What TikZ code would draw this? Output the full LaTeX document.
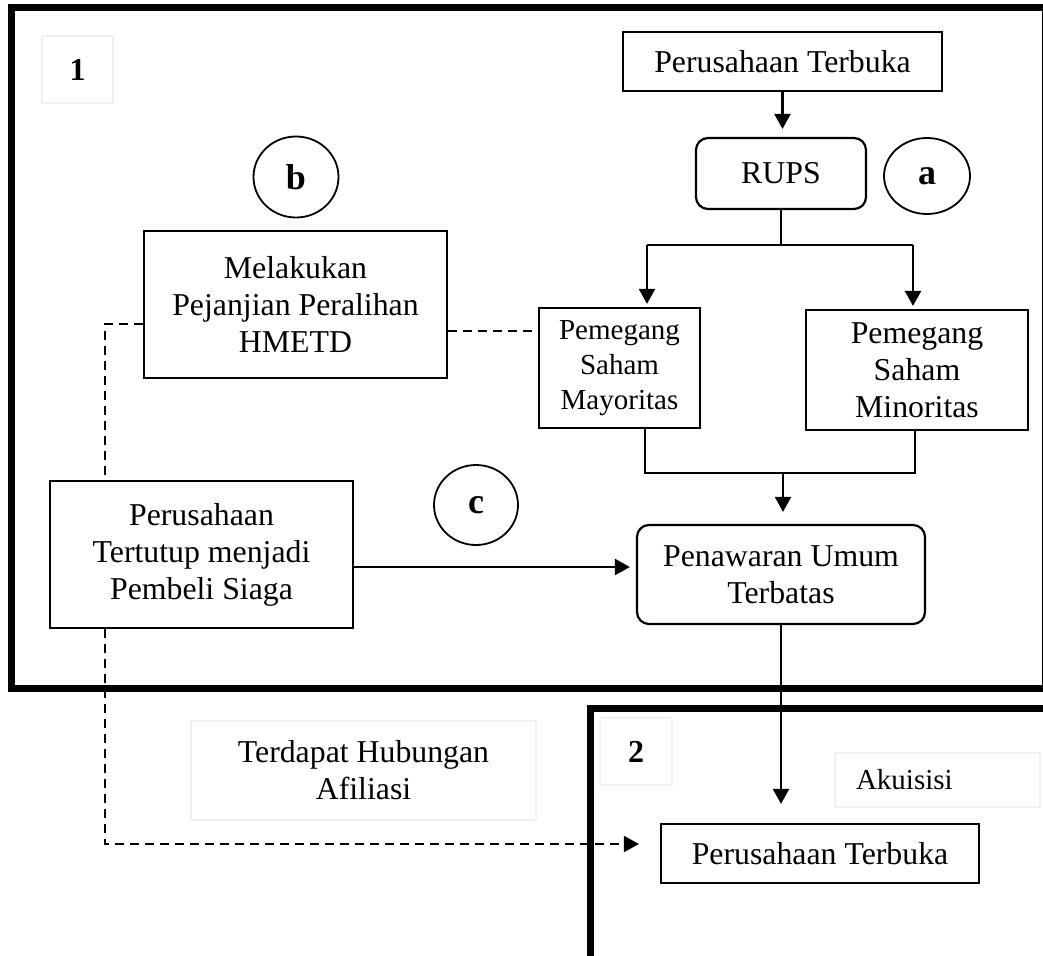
\documentclass[tikz,border=0pt]{standalone}
\usepackage{fontspec}
\setmainfont{Liberation Serif}
\usetikzlibrary{arrows.meta,shapes.geometric}
\begin{document}
\begin{tikzpicture}[x=1pt,y=-1pt,
  box/.style={draw, line width=2.2pt, inner sep=0pt, align=center, font=\fontsize{31.8}{37}\selectfont},
  rbox/.style={box, rounded corners=12pt},
  faint/.style={draw=black!6, line width=2pt, inner sep=0pt, align=center, font=\fontsize{31.8}{37}\selectfont},
  letter/.style={draw, ellipse, line width=1.8pt, inner sep=0pt, font=\fontsize{36}{40}\selectfont\bfseries},
  conn/.style={line width=2.3pt},
  arr/.style={conn, -{Triangle[length=15pt,width=16pt]}},
  dashedconn/.style={line width=2.3pt, dash pattern=on 9pt off 6pt},
  frame/.style={line width=7pt}]
\useasboundingbox (0,0) rectangle (1043,955);
% frames
\draw[frame] (11,8) rectangle (1045.5,688);
\draw[frame] (1050,708) -- (590,708) -- (590,965);
% nodes
\node[box, minimum width=319, minimum height=59] (top) at (782.5,61.5) {Perusahaan Terbuka};
\node[rbox, minimum width=170, minimum height=71] (rups) at (781,173.5) {RUPS};
\node[letter, minimum width=86, minimum height=76] (ca) at (927,176) {a};
\node[letter, minimum width=85, minimum height=81] (cb) at (296,177) {b};
\node[letter, minimum width=84, minimum height=80] (cc) at (476,505) {c};
\node[box, minimum width=303, minimum height=147] (mel) at (295.5,304.5) {Melakukan\\Pejanjian Peralihan\\HMETD};
\node[box, minimum width=161, minimum height=120, font=\fontsize{29}{35}\selectfont] (maj) at (619.5,368) {Pemegang\\Saham\\Mayoritas};
\node[box, minimum width=222, minimum height=120] (min) at (917,370) {Pemegang\\Saham\\Minoritas};
\node[box, minimum width=303, minimum height=147] (tert) at (201.5,554.5) {Perusahaan\\Tertutup menjadi\\Pembeli Siaga};
\node[rbox, minimum width=288, minimum height=99] (pen) at (781,574.5) {Penawaran Umum\\Terbatas};
\node[box, minimum width=318, minimum height=59] (bot) at (820,853.5) {Perusahaan Terbuka};
\node[faint, minimum width=71, minimum height=67, font=\fontsize{32}{37}\selectfont\bfseries] (l1) at (77.5,69.5) {1};
\node[faint, minimum width=72, minimum height=67, font=\fontsize{32}{37}\selectfont\bfseries] (l2) at (636,751.5) {2};
\node[faint, minimum width=345, minimum height=99] (aff) at (363.5,770.5) {Terdapat Hubungan\\Afiliasi};
\node[faint, text width=163, inner xsep=21, align=left, minimum height=54, font=\fontsize{29}{35}\selectfont] (aku) at (937.5,780) {Akuisisi};
% coordinates
\coordinate (split) at (781,245);
\coordinate (sl) at (647,245);
\coordinate (sr) at (913,245);
\coordinate (jl) at (645,473);
\coordinate (jr) at (915,473);
\coordinate (jm) at (783,473);
\coordinate (ac) at (353,567);
\coordinate (d1) at (105,324);
\coordinate (d2) at (490,331);
\coordinate (d3) at (105,844);
% connectors
\draw[arr, shorten >=8pt] (top.south) -- (top.south |- rups.north);
\draw[conn] (rups.south) -- (split);
\draw[conn] (sl) -- (sr);
\draw[arr, shorten >=3pt] (sl) -- (sl |- maj.north);
\draw[arr, shorten >=3pt] (sr) -- (sr |- min.north);
\draw[conn] (jl |- maj.south) -- (jl) -- (jr) -- (jr |- min.south);
\draw[arr, shorten >=12pt] (jm) -- (jm |- pen.north);
\draw[arr, shorten >=6pt] (tert.east |- ac) -- (pen.west |- ac);
\draw[arr, shorten >=19pt] (pen.south) -- (pen.south |- bot.north);
\draw[dashedconn] (mel.west |- d1) -- (d1) -- (d1 |- tert.north);
\draw[dashedconn] (mel.east |- d2) -- (maj.west |- d2);
\draw[dashedconn, -{Triangle[length=15pt,width=16pt]}, shorten >=21pt] (d3 |- tert.south) -- (d3) -- (bot.west |- d3);
\end{tikzpicture}
\end{document}
